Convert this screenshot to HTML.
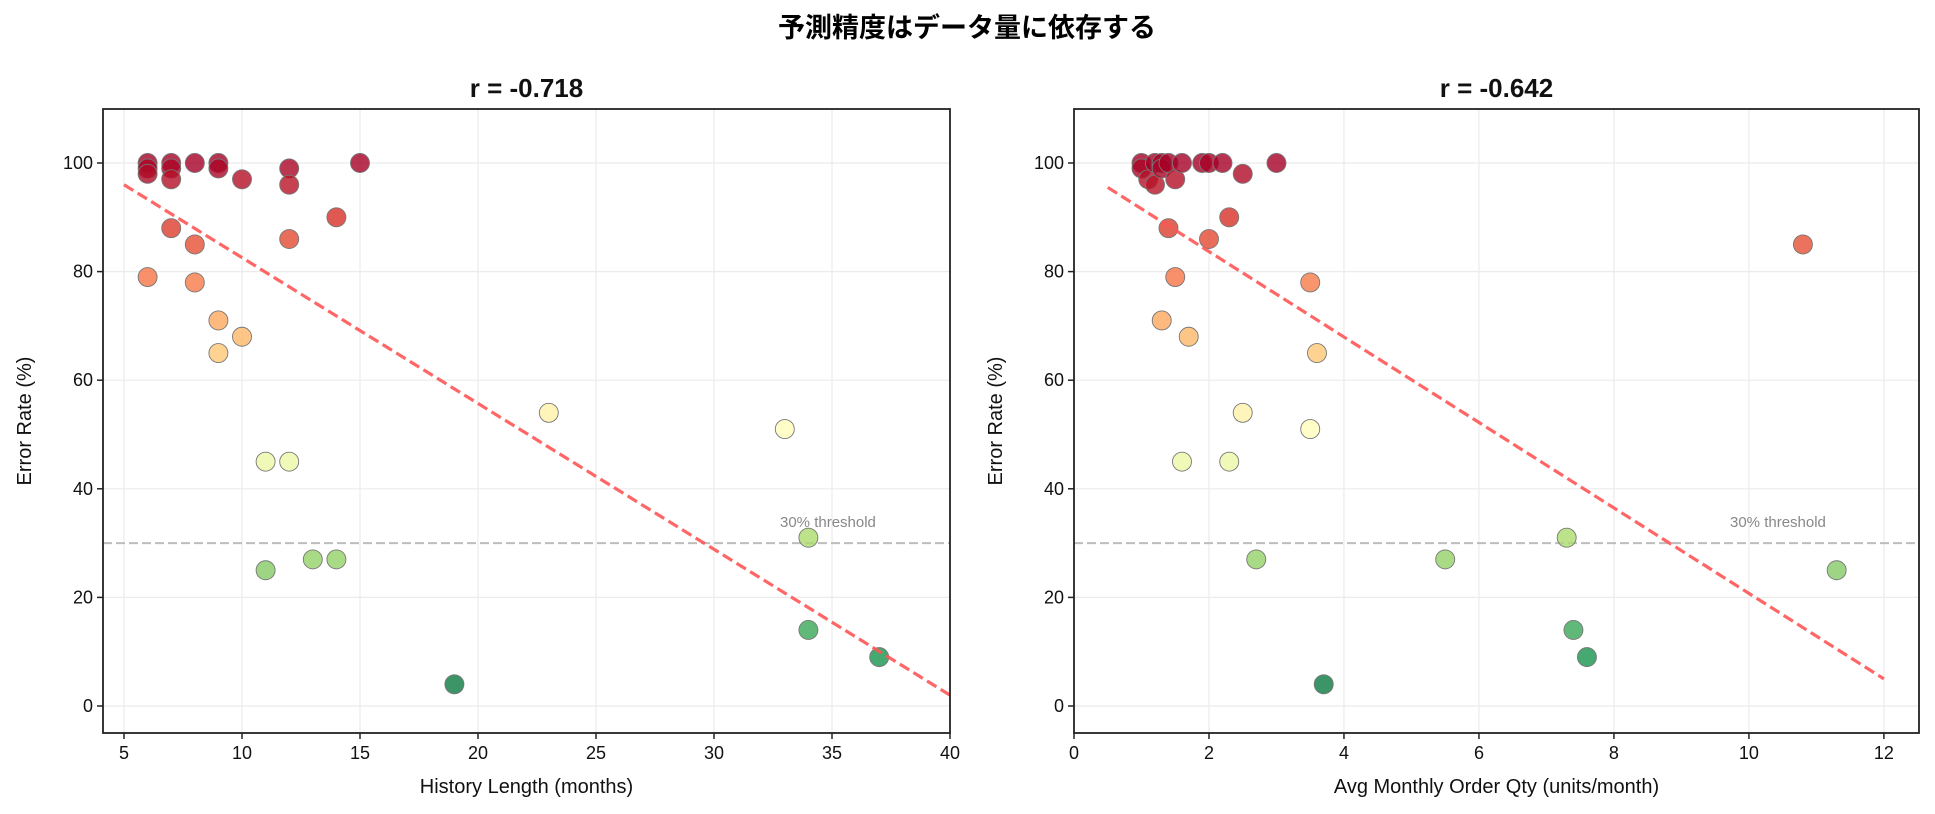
<!DOCTYPE html>
<html><head><meta charset="utf-8"><style>
body{margin:0;background:#fff;}
svg{display:block;font-family:"Liberation Sans","Noto Sans CJK JP",sans-serif;}
</style></head><body>
<svg id="s" width="1935" height="814" xmlns="http://www.w3.org/2000/svg">
<text x="967" y="37" text-anchor="middle" font-size="27" font-weight="bold" font-family="'Liberation Sans','Noto Sans CJK JP',sans-serif">予測精度はデータ量に依存する</text>
</svg>
<script>
const s=document.getElementById('s');
const NS='http://www.w3.org/2000/svg';
function el(t,a,txt){const e=document.createElementNS(NS,t);for(const k in a)e.setAttribute(k,a[k]);if(txt!==undefined)e.textContent=txt;s.appendChild(e);return e;}
const stops=[[0,[0,104,55]],[10,[26,152,80]],[20,[102,189,99]],[30,[166,217,106]],[40,[217,239,139]],[50,[255,255,191]],[60,[254,224,139]],[70,[253,174,97]],[80,[244,109,67]],[90,[215,48,39]],[100,[165,0,38]]];
function col(v){for(let i=0;i<stops.length-1;i++){const[a,ca]=stops[i],[b,cb]=stops[i+1];if(v<=b){const t=(v-a)/(b-a);return 'rgb('+ca.map((c,j)=>Math.round(c+(cb[j]-c)*t)).join(',')+')';}}return 'rgb(165,0,38)';}
function plot(o){
 const X=v=>o.x0+(v-o.xmin)*(o.x1-o.x0)/(o.xmax-o.xmin);
 const Y=v=>706-v*5.43;
 const top=109,bot=733;
 o.xt.forEach(t=>el('line',{x1:X(t),x2:X(t),y1:top,y2:bot,stroke:'#ebebeb','stroke-width':1.2}));
 [0,20,40,60,80,100].forEach(t=>el('line',{x1:o.x0,x2:o.x1,y1:Y(t),y2:Y(t),stroke:'#ebebeb','stroke-width':1.2}));
 el('line',{x1:o.x0,x2:o.x1,y1:Y(30),y2:Y(30),stroke:'#bdbdbd','stroke-width':2,'stroke-dasharray':'9,4'});
 el('text',{x:o.thx,y:527,'font-size':15,fill:'#888'},'30% threshold');
 o.pts.forEach(p=>el('circle',{cx:X(p[0]),cy:Y(p[1]),r:9.5,fill:col(p[1]),'fill-opacity':0.8,stroke:'#777','stroke-width':0.9}));
 el('line',{x1:X(o.tl[0]),y1:Y(o.tl[1]),x2:X(o.tl[2]),y2:Y(o.tl[3]),stroke:'#ff5555','stroke-opacity':0.9,'stroke-width':3.2,'stroke-dasharray':'11,5'});
 el('rect',{x:o.x0,y:top,width:o.x1-o.x0,height:bot-top,fill:'none',stroke:'#222','stroke-width':1.8});
 o.xt.forEach(t=>{el('line',{x1:X(t),x2:X(t),y1:bot,y2:bot+6,stroke:'#222','stroke-width':1.5});el('text',{x:X(t),y:bot+26,'font-size':18,'text-anchor':'middle',fill:'#111'},t);});
 [0,20,40,60,80,100].forEach(t=>{el('line',{x1:o.x0-6,x2:o.x0,y1:Y(t),y2:Y(t),stroke:'#222','stroke-width':1.5});el('text',{x:o.x0-10,y:Y(t)+6,'font-size':18,'text-anchor':'end',fill:'#111'},t);});
 el('text',{x:(o.x0+o.x1)/2,y:793,'font-size':20,'text-anchor':'middle',fill:'#111'},o.xl);
 el('text',{x:0,y:0,'font-size':20,'text-anchor':'middle',fill:'#111',transform:'translate('+(o.x0-72)+',421) rotate(-90)'},'Error Rate (%)');
 el('text',{x:(o.x0+o.x1)/2,y:97,'font-size':26,'font-weight':'bold','text-anchor':'middle',fill:'#111'},o.title);
}
plot({x0:103,x1:950,xmin:4.11,xmax:40,xt:[5,10,15,20,25,30,35,40],thx:780,xl:'History Length (months)',title:'r = -0.718',tl:[5,96,40,2],
pts:[[6,100],[6,99],[6,98],[7,100],[7,99],[7,97],[8,100],[9,100],[9,99],[10,97],[12,99],[12,96],[15,100],[7,88],[8,85],[12,86],[14,90],[6,79],[8,78],[9,71],[9,65],[10,68],[11,45],[12,45],[23,54],[33,51],[34,31],[11,25],[13,27],[14,27],[19,4],[34,14],[37,9]]});
plot({x0:1074,x1:1919,xmin:0,xmax:12.52,xt:[0,2,4,6,8,10,12],thx:1730,xl:'Avg Monthly Order Qty (units/month)',title:'r = -0.642',tl:[0.5,95.5,12,5],
pts:[[1,100],[1,99],[1.1,97],[1.2,96],[1.2,100],[1.3,100],[1.3,99],[1.4,100],[1.5,97],[1.6,100],[1.9,100],[2,100],[2.2,100],[2.5,98],[3,100],[1.4,88],[2.3,90],[2,86],[1.5,79],[3.5,78],[1.3,71],[1.7,68],[3.6,65],[2.5,54],[3.5,51],[1.6,45],[2.3,45],[7.3,31],[2.7,27],[5.5,27],[11.3,25],[10.8,85],[7.4,14],[7.6,9],[3.7,4]]});
</script>
</body></html>
